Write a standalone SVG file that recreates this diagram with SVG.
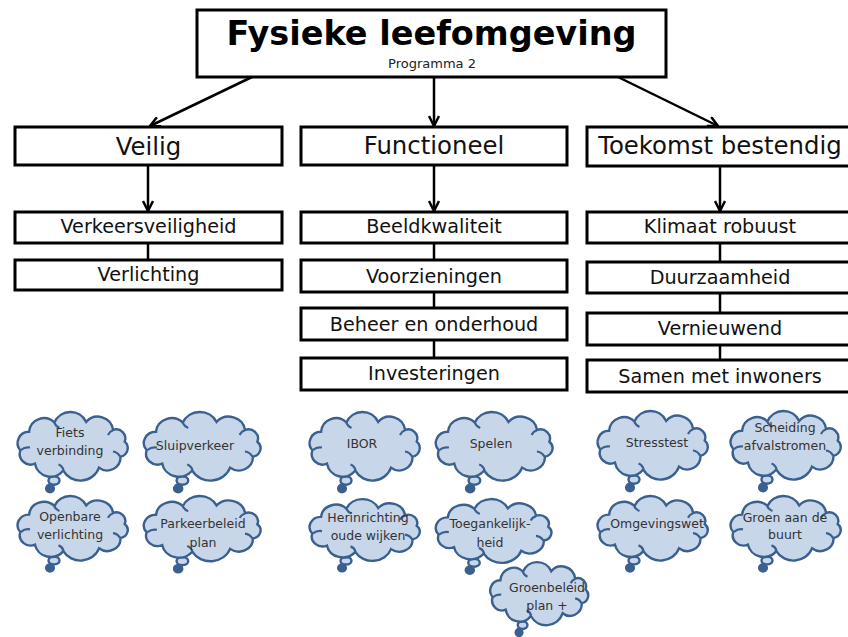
<svg xmlns="http://www.w3.org/2000/svg" xmlns:xlink="http://www.w3.org/1999/xlink" width="848" height="637" viewBox="0 0 848 637">
<style>
.box{fill:#fff;stroke:#000;stroke-width:3}
.t1{font-family:"DejaVu Sans",Verdana,sans-serif;font-size:24.4px;fill:#111;text-anchor:middle}
.t2{font-family:"DejaVu Sans",Verdana,sans-serif;font-size:19.2px;fill:#111;text-anchor:middle}
.ct{font-family:"DejaVu Sans",Verdana,sans-serif;font-size:12.5px;fill:#333;text-anchor:middle}
.conn{stroke:#000;stroke-width:2.5;fill:none}
.cl{fill:#c8d6ea;stroke:#3a6090;stroke-width:2.4}
.cli{fill:none;stroke:#3a6090;stroke-width:2.2}
.cld{fill:#3a6090;stroke:#3a6090;stroke-width:1.5}
</style>
<defs>
<marker id="arr" viewBox="0 0 12 12" refX="11" refY="6" markerWidth="12" markerHeight="12" markerUnits="userSpaceOnUse" orient="auto">
<path d="M1,1 L11,6 L1,11" fill="none" stroke="#000" stroke-width="2.5"/>
</marker>
<g id="cloud">
<ellipse class="cl" cx="40" cy="67.5" rx="5.5" ry="4.2" vector-effect="non-scaling-stroke"/>
<circle class="cld" cx="36" cy="75.5" r="4.3" vector-effect="non-scaling-stroke"/>
<path class="cl" vector-effect="non-scaling-stroke" d="M6.3,37.3 A11.3,11.3 0 0 1 15.1,18.7 A14.9,14.9 0 0 1 40.4,9.5 A17.5,17.5 0 0 1 72.2,8.9 A15.5,15.5 0 0 1 99.1,16.9 A9.1,9.1 0 0 1 110.7,28.7 A8.5,8.5 0 0 1 106.5,43.6 A13.3,13.3 0 0 1 85,54.6 A19.7,19.7 0 0 1 49.3,57.6 A16,16 0 0 1 21,50.7 A10.9,10.9 0 0 1 6.3,37.3 Z"/>
<path class="cli" vector-effect="non-scaling-stroke" d="M7,37 Q11,33.5 16,34.5 M106,43.5 Q103.5,39 99,38.5 M49.5,57.3 Q48.5,53 44.5,51.5 M40.4,10 Q42,13.5 45.5,15 M99,17.3 Q95.5,18.5 94,22"/>
</g>
</defs>

<g id="connectors">
<line class="conn" x1="252" y1="77" x2="150" y2="126" marker-end="url(#arr)"/>
<line class="conn" x1="434" y1="77" x2="434" y2="126" marker-end="url(#arr)"/>
<line class="conn" x1="618" y1="77" x2="718" y2="126" marker-end="url(#arr)"/>
<line class="conn" x1="148" y1="165" x2="148" y2="211" marker-end="url(#arr)"/>
<line class="conn" x1="434" y1="165" x2="434" y2="211" marker-end="url(#arr)"/>
<line class="conn" x1="720" y1="166" x2="720" y2="211" marker-end="url(#arr)"/>
<line class="conn" x1="148" y1="243" x2="148" y2="260"/>
<line class="conn" x1="434" y1="243" x2="434" y2="260"/>
<line class="conn" x1="434" y1="292" x2="434" y2="308"/>
<line class="conn" x1="434" y1="340" x2="434" y2="358"/>
<line class="conn" x1="720" y1="243" x2="720" y2="262"/>
<line class="conn" x1="720" y1="293" x2="720" y2="313"/>
<line class="conn" x1="720" y1="345" x2="720" y2="360"/>
</g>

<g id="title">
<rect class="box" x="197" y="10" width="469" height="67"/>
<text x="431.5" y="45" style="font-family:'DejaVu Sans',Verdana,sans-serif;font-weight:bold;font-size:33.5px;text-anchor:middle" fill="#000">Fysieke leefomgeving</text>
<text x="432" y="68" style="font-family:'DejaVu Sans',Verdana,sans-serif;font-size:13px;text-anchor:middle" fill="#222">Programma 2</text>
</g>

<g id="veilig"><rect class="box" x="15" y="127" width="267" height="38"/><text class="t1" x="148.5" y="155">Veilig</text></g>
<g id="functioneel"><rect class="box" x="301" y="127" width="266" height="38"/><text class="t1" x="434" y="154">Functioneel</text></g>
<g id="toekomst"><rect class="box" x="587" y="127" width="270" height="39"/><text class="t1" x="720" y="154">Toekomst bestendig</text></g>

<g id="verkeersveiligheid"><rect class="box" x="15" y="212" width="267" height="31"/><text class="t2" x="148.5" y="233">Verkeersveiligheid</text></g>
<g id="verlichting"><rect class="box" x="15" y="260" width="267" height="30"/><text class="t2" x="148.5" y="281">Verlichting</text></g>

<g id="beeldkwaliteit"><rect class="box" x="301" y="212" width="266" height="31"/><text class="t2" x="434" y="233">Beeldkwaliteit</text></g>
<g id="voorzieningen"><rect class="box" x="301" y="260" width="266" height="32"/><text class="t2" x="434" y="283">Voorzieningen</text></g>
<g id="beheer"><rect class="box" x="301" y="308" width="266" height="32"/><text class="t2" x="434" y="331">Beheer en onderhoud</text></g>
<g id="investeringen"><rect class="box" x="301" y="358" width="266" height="32"/><text class="t2" x="434" y="380">Investeringen</text></g>

<g id="klimaat"><rect class="box" x="587" y="212" width="270" height="31"/><text class="t2" x="720" y="233">Klimaat robuust</text></g>
<g id="duurzaamheid"><rect class="box" x="587" y="262" width="270" height="31"/><text class="t2" x="720" y="284">Duurzaamheid</text></g>
<g id="vernieuwend"><rect class="box" x="587" y="313" width="270" height="32"/><text class="t2" x="720" y="335">Vernieuwend</text></g>
<g id="samen"><rect class="box" x="587" y="360" width="270" height="32"/><text class="t2" x="720" y="383">Samen met inwoners</text></g>

<g id="c-fiets"><use xlink:href="#cloud" transform="translate(14,413)"/><text class="ct" x="70" y="437">Fiets</text><text class="ct" x="70" y="455">verbinding</text></g>
<g id="c-sluip"><use xlink:href="#cloud" transform="translate(140,413) scale(1.06,1)"/><text class="ct" x="195" y="450">Sluipverkeer</text></g>
<g id="c-openbare"><use xlink:href="#cloud" transform="translate(14,497) scale(1,0.94)"/><text class="ct" x="70" y="521">Openbare</text><text class="ct" x="70" y="539">verlichting</text></g>
<g id="c-parkeer"><use xlink:href="#cloud" transform="translate(140,497) scale(1.06,0.95)"/><text class="ct" x="203" y="528">Parkeerbeleid</text><text class="ct" x="203" y="547">plan</text></g>

<g id="c-ibor"><use xlink:href="#cloud" transform="translate(306,413)"/><text class="ct" x="362" y="448">IBOR</text></g>
<g id="c-spelen"><use xlink:href="#cloud" transform="translate(432,413) scale(1.06,1)"/><text class="ct" x="491" y="448">Spelen</text></g>
<g id="c-herinrichting"><use xlink:href="#cloud" transform="translate(306,500) scale(1,0.9)"/><text class="ct" x="368" y="522">Herinrichting</text><text class="ct" x="368" y="540">oude wijken</text></g>
<g id="c-toegankelijk"><use xlink:href="#cloud" transform="translate(432,500) scale(1.05,0.93)"/><text class="ct" x="490" y="528">Toegankelijk-</text><text class="ct" x="490" y="547">heid</text></g>
<g id="c-groenbeleid"><use xlink:href="#cloud" transform="translate(487,563) scale(0.89,0.92)"/><text class="ct" x="547" y="592">Groenbeleid</text><text class="ct" x="547" y="610">plan +</text></g>

<g id="c-stresstest"><use xlink:href="#cloud" transform="translate(594,412)"/><text class="ct" x="657" y="447">Stresstest</text></g>
<g id="c-scheiding"><use xlink:href="#cloud" transform="translate(727,412)"/><text class="ct" x="785" y="432">Scheiding</text><text class="ct" x="785" y="450">afvalstromen</text></g>
<g id="c-omgevingswet"><use xlink:href="#cloud" transform="translate(594,497) scale(1,0.94)"/><text class="ct" x="657" y="528">Omgevingswet</text></g>
<g id="c-groenaan"><use xlink:href="#cloud" transform="translate(727,497) scale(1,0.94)"/><text class="ct" x="785" y="522">Groen aan de</text><text class="ct" x="785" y="539">buurt</text></g>
</svg>
